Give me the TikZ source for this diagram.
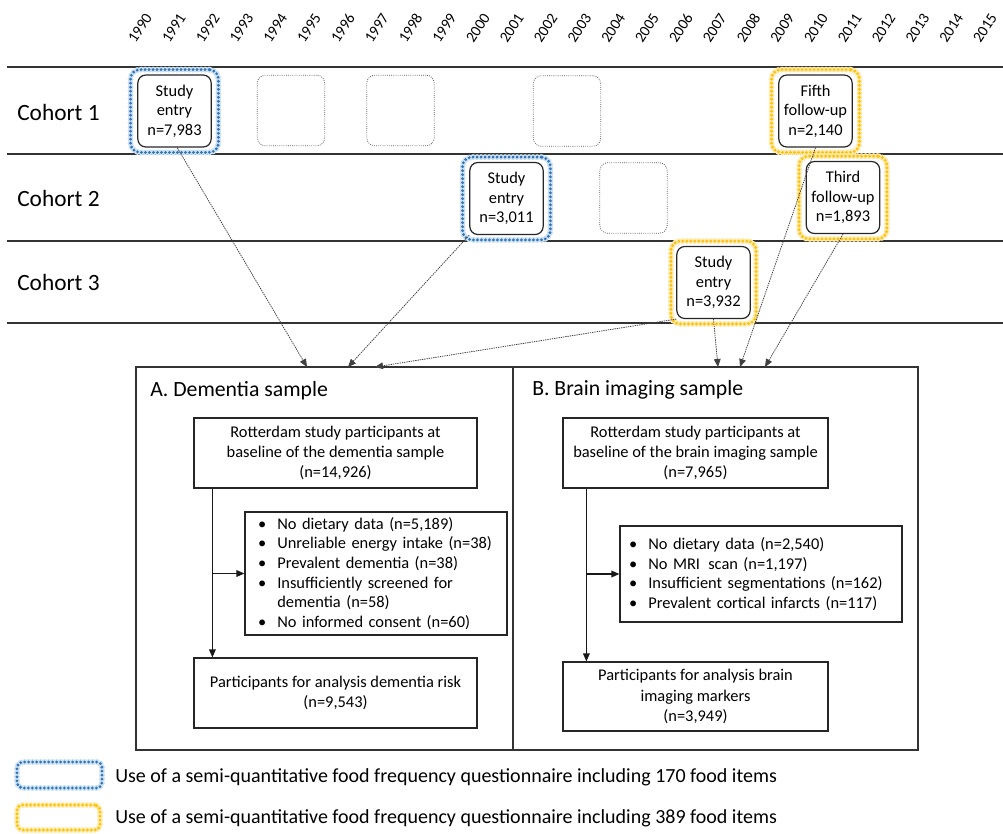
\documentclass[tikz,border=0pt]{standalone}
\usepackage{fontspec}
\setmainfont{Carlito}
\usetikzlibrary{arrows.meta,calc,fit}
\definecolor{fblue}{RGB}{46,117,182}
\definecolor{fblueglow}{RGB}{205,225,243}
\definecolor{forange}{RGB}{255,192,0}
\definecolor{forangeglow}{RGB}{255,234,175}
\newcommand\myfsSmall{\fontsize{12.3}{14.6}\selectfont}
\newcommand\myfsBody{\fontsize{12.3}{15.2}\selectfont}
\newcommand\myfsList{\fontsize{12.3}{14.7}\selectfont}
\newcommand\myfsTitle{\fontsize{16.3}{19}\selectfont}
\newcommand\myfsCohort{\fontsize{17.5}{20}\selectfont}
\newcommand\myfsLegend{\fontsize{15}{17}\selectfont}
\newcommand\myfsYear{\fontsize{11.5}{13}\selectfont}
\newcommand\mybul{\makebox[14.5pt][l]{\textbullet}}
\begin{document}
\begin{tikzpicture}[x=0.75pt,y=-0.75pt,
  visit/.style={draw=black!85, line width=0.9pt, rounded corners=6pt, minimum width=55pt, minimum height=54pt, inner sep=1pt, align=center, font=\myfsSmall},
  emptyvisit/.style={draw=black!65, line width=0.6pt, densely dotted, rounded corners=6pt, minimum width=50.5pt, minimum height=53pt},
  qblue/.style={preaction={draw=fblueglow, line width=4.5pt}, draw=fblue, line width=2.3pt, dash pattern=on 0pt off 3pt, line cap=round, rounded corners=7pt},
  qorange/.style={preaction={draw=forangeglow, line width=4.5pt}, draw=forange, line width=2.3pt, dash pattern=on 0pt off 3pt, line cap=round, rounded corners=7pt},
  bigbox/.style={draw=black!80, line width=1pt},
  flowbox/.style={draw=black!85, line width=0.9pt, align=center, font=\myfsBody},
  listbox/.style={draw=black!85, line width=0.9pt, align=left, font=\myfsList},
  conn/.style={line width=0.6pt, draw=black!75, dash pattern=on 1pt off 0.7pt, -{Triangle[length=6pt,width=5pt]}},
  flow/.style={line width=0.9pt, draw=black!90, -{Triangle[length=6pt,width=5pt]}},
  rowline/.style={line width=0.9pt, draw=black!80}
]
\useasboundingbox (0,0) rectangle (1003,833);

% years
\foreach \i in {0,...,25} {
  \pgfmathsetmacro\yx{140+33.8*\i}
  \pgfmathtruncatemacro\yr{1990+\i}
  \node[rotate=57, font=\myfsYear, inner sep=0pt] (yr\yr) at (\yx,28) {\yr};
}

% row lines
\draw[rowline] (7,67) -- (1003,67);
\draw[rowline] (7,154) -- (1003,154);
\draw[rowline] (7,241) -- (1003,241);
\draw[rowline] (7,323) -- (1003,323);

% cohort labels
\node[anchor=west, font=\myfsCohort, inner sep=0pt] (coh1) at (17,112) {Cohort 1};
\node[anchor=west, font=\myfsCohort, inner sep=0pt] (coh2) at (17,198) {Cohort 2};
\node[anchor=west, font=\myfsCohort, inner sep=0pt] (coh3) at (17,282) {Cohort 3};

% cohort 1
\node[visit] (c1e) at (174.5,111) {Study\\entry\\n=7,983};
\node[qblue, fit=(c1e), inner xsep=5pt, inner ysep=3.6pt] (c1eq) {};
\node[emptyvisit] (e1) at (291,110.5) {};
\node[emptyvisit] (e2) at (400.5,110.5) {};
\node[emptyvisit] (e3) at (567,111) {};
\node[visit] (fifth) at (815.5,111) {Fifth\\follow-up\\n=2,140};
\node[qorange, fit=(fifth), inner xsep=5pt, inner ysep=3.6pt] (fifthq) {};

% cohort 2
\node[visit] (c2e) at (506.5,198.5) {Study\\entry\\n=3,011};
\node[qblue, fit=(c2e), inner xsep=5pt, inner ysep=3.6pt] (c2eq) {};
\node[emptyvisit] (e4) at (633.5,198) {};
\node[visit] (third) at (843,197.5) {Third\\follow-up\\n=1,893};
\node[qorange, fit=(third), inner xsep=5pt, inner ysep=3.6pt] (thirdq) {};

% cohort 3
\node[visit] (c3e) at (713.5,282.5) {Study\\entry\\n=3,932};
\node[qorange, fit=(c3e), inner xsep=4pt, inner ysep=3.6pt] (c3eq) {};

% samples
\node[bigbox, minimum width=282.75pt, minimum height=287.25pt] (boxA) at (324.5,558.5) {};
\node[bigbox, minimum width=303.75pt, minimum height=287.25pt] (boxB) at (715.5,558.5) {};
\node[anchor=west, font=\myfsTitle, inner sep=0pt] (titleA) at (150,391) {A. Dementia sample};
\node[anchor=west, font=\myfsTitle, inner sep=0pt] (titleB) at (532,390) {B. Brain imaging sample};

\node[flowbox, minimum width=212.25pt, minimum height=52.5pt] (topA) at (335.5,453) {Rotterdam study participants at\\baseline of the dementia sample\\(n=14,926)};
\node[listbox, minimum height=92.25pt, text width=177pt, inner xsep=9.75pt] (exclA) at (376,573.5) {\mybul No dietary data (n=5,189)\\ \mybul Unreliable energy intake (n=38)\\ \mybul Prevalent dementia (n=38)\\ \mybul Insufficiently screened for\\ \hspace*{14.5pt}dementia (n=58)\\ \mybul No informed consent (n=60)};
\node[flowbox, minimum width=212.25pt, minimum height=52.5pt] (botA) at (335.5,693) {Participants for analysis dementia risk\\(n=9,543)};

\node[flowbox, minimum width=198.75pt, minimum height=52.5pt] (topB) at (695.5,453) {Rotterdam study participants at\\baseline of the brain imaging sample\\(n=7,965)};
\node[listbox, minimum height=72pt, text width=198pt, inner xsep=6.75pt] (exclB) at (761,574) {\mybul No dietary data (n=2,540)\\ \mybul No MRI\, scan (n=1,197)\\ \mybul Insufficient segmentations (n=162)\\ \mybul Prevalent cortical infarcts (n=117)};
\node[flowbox, minimum width=198.75pt, minimum height=51.75pt] (botB) at (695.5,696.5) {Participants for analysis brain\\imaging markers\\(n=3,949)};

% flow arrows
\coordinate (splitA) at ($(topA.south west)+(14.25pt,0)$);
\draw[flow] (splitA) -- (splitA |- botA.north);
\draw[flow] (splitA |- exclA.west) -- (exclA.west);
\coordinate (splitB) at ($(topB.south west)+(18pt,0)$);
\draw[flow] (splitB) -- (splitB |- botB.north);
\draw[flow] (splitB |- exclB.west) -- (exclB.west);

% connectors from cohorts to samples
\coordinate (inA1) at (307,367);
\coordinate (inA2) at (348,367);
\coordinate (inA3) at (375,367);
\coordinate (inB1) at (718,367);
\coordinate (inB2) at (740,367);
\coordinate (inB3) at (765,367);
\draw[conn] ($(c1e.south)+(2pt,0)$) -- (inA1);
\draw[conn] (c2e.south west) -- (inA2);
\draw[conn] (c3e.south west) -- (inA3);
\draw[conn] (c3e.south) -- (inB1);
\draw[conn] (fifth.south) -- (inB2);
\draw[conn] (third.south) -- (inB3);

% legend
\node[qblue, rounded corners=4pt, minimum width=63.75pt, minimum height=19.5pt] (legB) at (59.5,775) {};
\node[qorange, rounded corners=4pt, minimum width=62.25pt, minimum height=18.75pt] (legO) at (58.5,817.5) {};
\node[anchor=west, font=\myfsLegend, inner sep=0pt] (legBt) at (115,777) {Use of a semi-quantitative food frequency questionnaire including 170 food items};
\node[anchor=west, font=\myfsLegend, inner sep=0pt] (legOt) at (115,818) {Use of a semi-quantitative food frequency questionnaire including 389 food items};
\end{tikzpicture}
\end{document}
